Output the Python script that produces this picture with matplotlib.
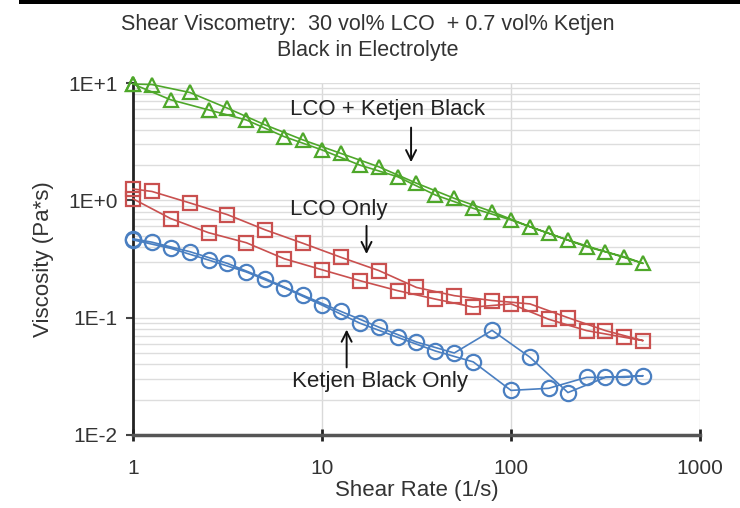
import numpy as np
import matplotlib
matplotlib.use("Agg")
import matplotlib.pyplot as plt
from matplotlib.patches import Rectangle
from matplotlib.ticker import FixedLocator, LogLocator, NullFormatter

plt.rcParams['font.family'] = ['Liberation Sans', 'DejaVu Sans']

# shear rates: sweep up, then sweep back down (offset by 0.1 decade)
rate_up = [1, 1.58, 2.51, 3.98, 6.31, 10, 15.8, 25.1, 39.8, 63.1, 100, 158, 251, 398, 500]
rate_down = [500, 316, 200, 126, 79.4, 50.1, 31.6, 20, 12.6, 7.94, 5.01, 3.16, 2, 1.26, 1]

lco_kb_up = [9.8, 7.2, 5.9, 4.84, 3.49, 2.69, 2.0, 1.59, 1.11, 0.855, 0.68, 0.523, 0.402, 0.33, 0.29]
lco_kb_down = [0.29, 0.365, 0.459, 0.596, 0.80, 1.04, 1.40, 1.93, 2.51, 3.27, 4.39, 6.1, 8.3, 9.7, 9.8]

lco_up = [1.03, 0.70, 0.53, 0.435, 0.318, 0.256, 0.207, 0.17, 0.144, 0.123, 0.131, 0.097, 0.0776, 0.068, 0.0637]
lco_down = [0.0637, 0.0776, 0.10, 0.131, 0.14, 0.154, 0.181, 0.252, 0.327, 0.43, 0.56, 0.755, 0.95, 1.19, 1.25]

kb_up = [0.46, 0.39, 0.31, 0.245, 0.18, 0.128, 0.09, 0.068, 0.052, 0.042, 0.024, 0.025, 0.031, 0.031, 0.032]
kb_down = [0.032, 0.031, 0.023, 0.046, 0.078, 0.05, 0.062, 0.083, 0.113, 0.155, 0.215, 0.29, 0.365, 0.44, 0.47]

green = '#4EA72A'
red = '#C9504F'
blue = '#4A7FC1'

fig = plt.figure(figsize=(7.4, 5.08), dpi=100)
ax = fig.add_axes([133 / 740, 1 - 435 / 508, 567 / 740, 352 / 508])

def sweep(rup, vup, rdn, vdn, color, marker, ms):
    x = rup + rdn[1:]
    y = vup + vdn[1:]
    ax.plot(x, y, color=color, lw=1.2, marker=marker, ms=ms, mfc='none',
            mec=color, mew=1.6, zorder=3, clip_on=False)

sweep(rate_up, lco_kb_up, rate_down, lco_kb_down, green, '^', 10)
sweep(rate_up, lco_up, rate_down, lco_down, red, 's', 10)
sweep(rate_up, kb_up, rate_down, kb_down, blue, 'o', 11)

ax.set_xscale('log')
ax.set_yscale('log')
ax.set_xlim(1, 1000)
ax.set_ylim(0.01, 10)

ax.xaxis.set_major_locator(FixedLocator([1, 10, 100, 1000]))
ax.set_xticklabels(['1', '10', '100', '1000'])
ax.xaxis.set_minor_locator(LogLocator(base=10, subs=np.arange(2, 10)))
ax.xaxis.set_minor_formatter(NullFormatter())
ax.yaxis.set_major_locator(FixedLocator([0.01, 0.1, 1, 10]))
ax.set_yticklabels(['1E-2', '1E-1', '1E+0', '1E+1'])
ax.yaxis.set_minor_locator(LogLocator(base=10, subs=np.arange(2, 10)))
ax.yaxis.set_minor_formatter(NullFormatter())

ax.grid(True, axis='x', which='major', color='#D9D9D9', lw=1)
ax.grid(True, axis='y', which='both', color='#DDDDDD', lw=1)
ax.set_axisbelow(True)

for s in ['top', 'right']:
    ax.spines[s].set_visible(False)
ax.spines['left'].set_color('#222222')
ax.spines['left'].set_linewidth(2)
ax.spines['bottom'].set_color('#555555')
ax.spines['bottom'].set_linewidth(2.5)

ax.tick_params(axis='x', which='major', direction='inout', length=9, width=2,
               color='#222222', labelsize=15, pad=13, labelcolor='#333333')
ax.tick_params(axis='y', which='major', direction='out', length=5, width=1.5,
               color='#444444', labelsize=15, pad=6, labelcolor='#333333')
ax.tick_params(which='minor', length=0)

ax.set_xlabel('Shear Rate (1/s)', fontsize=16, color='#333333', labelpad=1)
ax.set_ylabel('Viscosity (Pa*s)', fontsize=16, color='#333333', labelpad=10)
fig.text(0.497, 0.973, 'Shear Viscometry:  30 vol% LCO  + 0.7 vol% Ketjen\nBlack in Electrolyte',
         ha='center', va='top', fontsize=15.5, color='#333333', linespacing=1.3)

arrow = dict(arrowstyle='->', color='#111111', lw=1.4, mutation_scale=18)
ax.annotate('', xy=(29.6, 2.0), xytext=(29.6, 4.4), arrowprops=arrow)
ax.text(22.3, 5.9, 'LCO + Ketjen Black', ha='center', va='center', fontsize=16, color='#222222')
ax.annotate('', xy=(17.2, 0.33), xytext=(17.2, 0.64), arrowprops=arrow)
ax.text(12.3, 0.83, 'LCO Only', ha='center', va='center', fontsize=16, color='#222222')
ax.annotate('', xy=(13.5, 0.0836), xytext=(13.5, 0.0357), arrowprops=arrow)
ax.text(20.3, 0.0283, 'Ketjen Black Only', ha='center', va='center', fontsize=16, color='#222222')

# dark strip along the top edge
fig.add_artist(Rectangle((19 / 740, 1 - 4 / 508), 1, 4 / 508, transform=fig.transFigure,
                         color='black', lw=0))

fig.savefig('out.png', dpi=100)
